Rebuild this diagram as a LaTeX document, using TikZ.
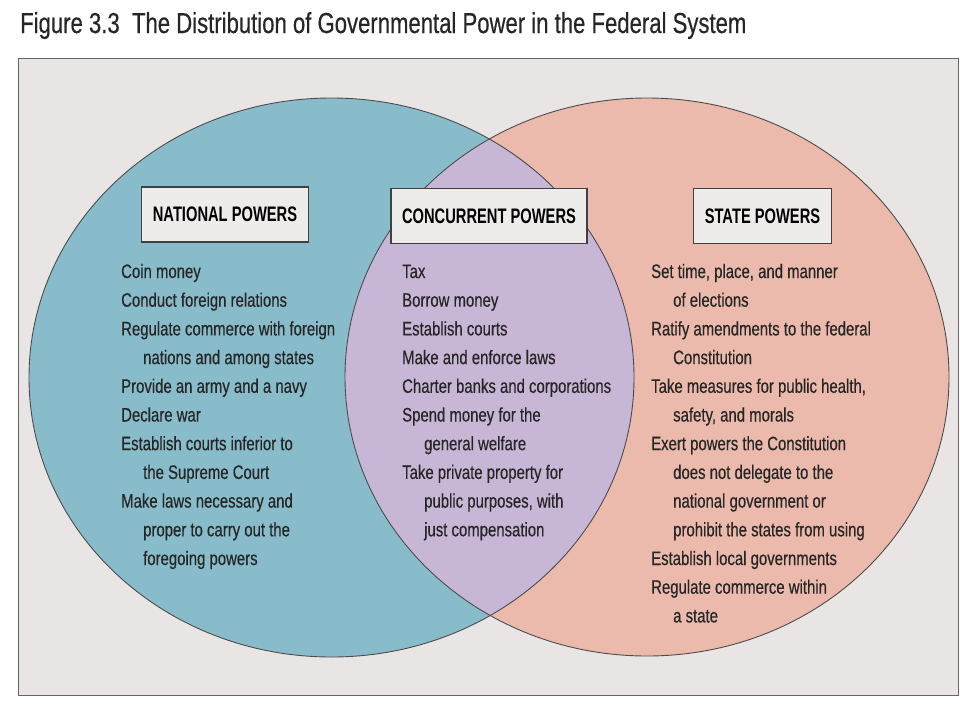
\documentclass[tikz,border=0pt]{standalone}
\usepackage{fontspec}
\setmainfont{Liberation Sans}[FakeStretch=0.765,FakeBold=0.4]
\newfontfamily\labelfont{Liberation Sans}[FakeStretch=0.7]
\usepackage{tikz}
\usetikzlibrary{backgrounds}
\definecolor{natblue}{HTML}{89BCCB}
\definecolor{statepink}{HTML}{ECBAAC}
\definecolor{concpurple}{HTML}{C8B6D7}
\definecolor{framegray}{HTML}{EAE5E5}
\definecolor{boxgray}{HTML}{EEEBEB}
\newcommand{\wrapind}{\hspace*{22pt}}

\begin{document}
\begin{tikzpicture}[x=1pt,y=-1pt,
  powerbox/.style={draw=black!75,line width=1.2pt,fill=boxgray,inner xsep=11pt,minimum height=55pt,
    font=\labelfont\bfseries\fontsize{21}{24}\selectfont},
  powerlist/.style={anchor=base west,inner sep=0pt,text=black!85,font=\fontsize{19.5}{28.7}\selectfont}]
\useasboundingbox (0,0) rectangle (960,720);
\node[anchor=base west,inner sep=0pt,text=black!85,font=\fontsize{28.9}{32}\selectfont] (title) at (20,33)
  {Figure 3.3\ \ The Distribution of Governmental Power in the Federal System};
\draw[fill=framegray,draw=black!60,line width=1pt] (18,58) rectangle (958,695);
\fill[natblue] (331.5,377.5) ellipse [x radius=302.5pt,y radius=279.5pt];
\fill[statepink] (647,377) ellipse [x radius=302pt,y radius=279pt];
\begin{scope}
\clip (331.5,377.5) ellipse [x radius=302.5pt,y radius=279.5pt];
\fill[concpurple] (647,377) ellipse [x radius=302pt,y radius=279pt];
\end{scope}
\draw[black!70,line width=0.9pt] (331.5,377.5) ellipse [x radius=302.5pt,y radius=279.5pt];
\draw[black!70,line width=0.9pt] (647,377) ellipse [x radius=302pt,y radius=279pt];

\node[powerbox] (national) at (225,214.5) {NATIONAL POWERS};
\node[powerbox] (concurrent) at (489,216) {CONCURRENT POWERS};
\node[powerbox] (state) at (762.5,216) {STATE POWERS};

\node[powerlist] (nationallist) at (121,278) {\begin{tabular}[t]{@{}l@{}}
Coin money\\
Conduct foreign relations\\
Regulate commerce with foreign\\
\wrapind nations and among states\\
Provide an army and a navy\\
Declare war\\
Establish courts inferior to\\
\wrapind the Supreme Court\\
Make laws necessary and\\
\wrapind proper to carry out the\\
\wrapind foregoing powers
\end{tabular}};
\node[powerlist] (concurrentlist) at (402,278) {\begin{tabular}[t]{@{}l@{}}
Tax\\
Borrow money\\
Establish courts\\
Make and enforce laws\\
Charter banks and corporations\\
Spend money for the\\
\wrapind general welfare\\
Take private property for\\
\wrapind public purposes, with\\
\wrapind just compensation
\end{tabular}};
\node[powerlist] (statelist) at (651,278) {\begin{tabular}[t]{@{}l@{}}
Set time, place, and manner\\
\wrapind of elections\\
Ratify amendments to the federal\\
\wrapind Constitution\\
Take measures for public health,\\
\wrapind safety, and morals\\
Exert powers the Constitution\\
\wrapind does not delegate to the\\
\wrapind national government or\\
\wrapind prohibit the states from using\\
Establish local governments\\
Regulate commerce within\\
\wrapind a state
\end{tabular}};
\end{tikzpicture}
\end{document}
